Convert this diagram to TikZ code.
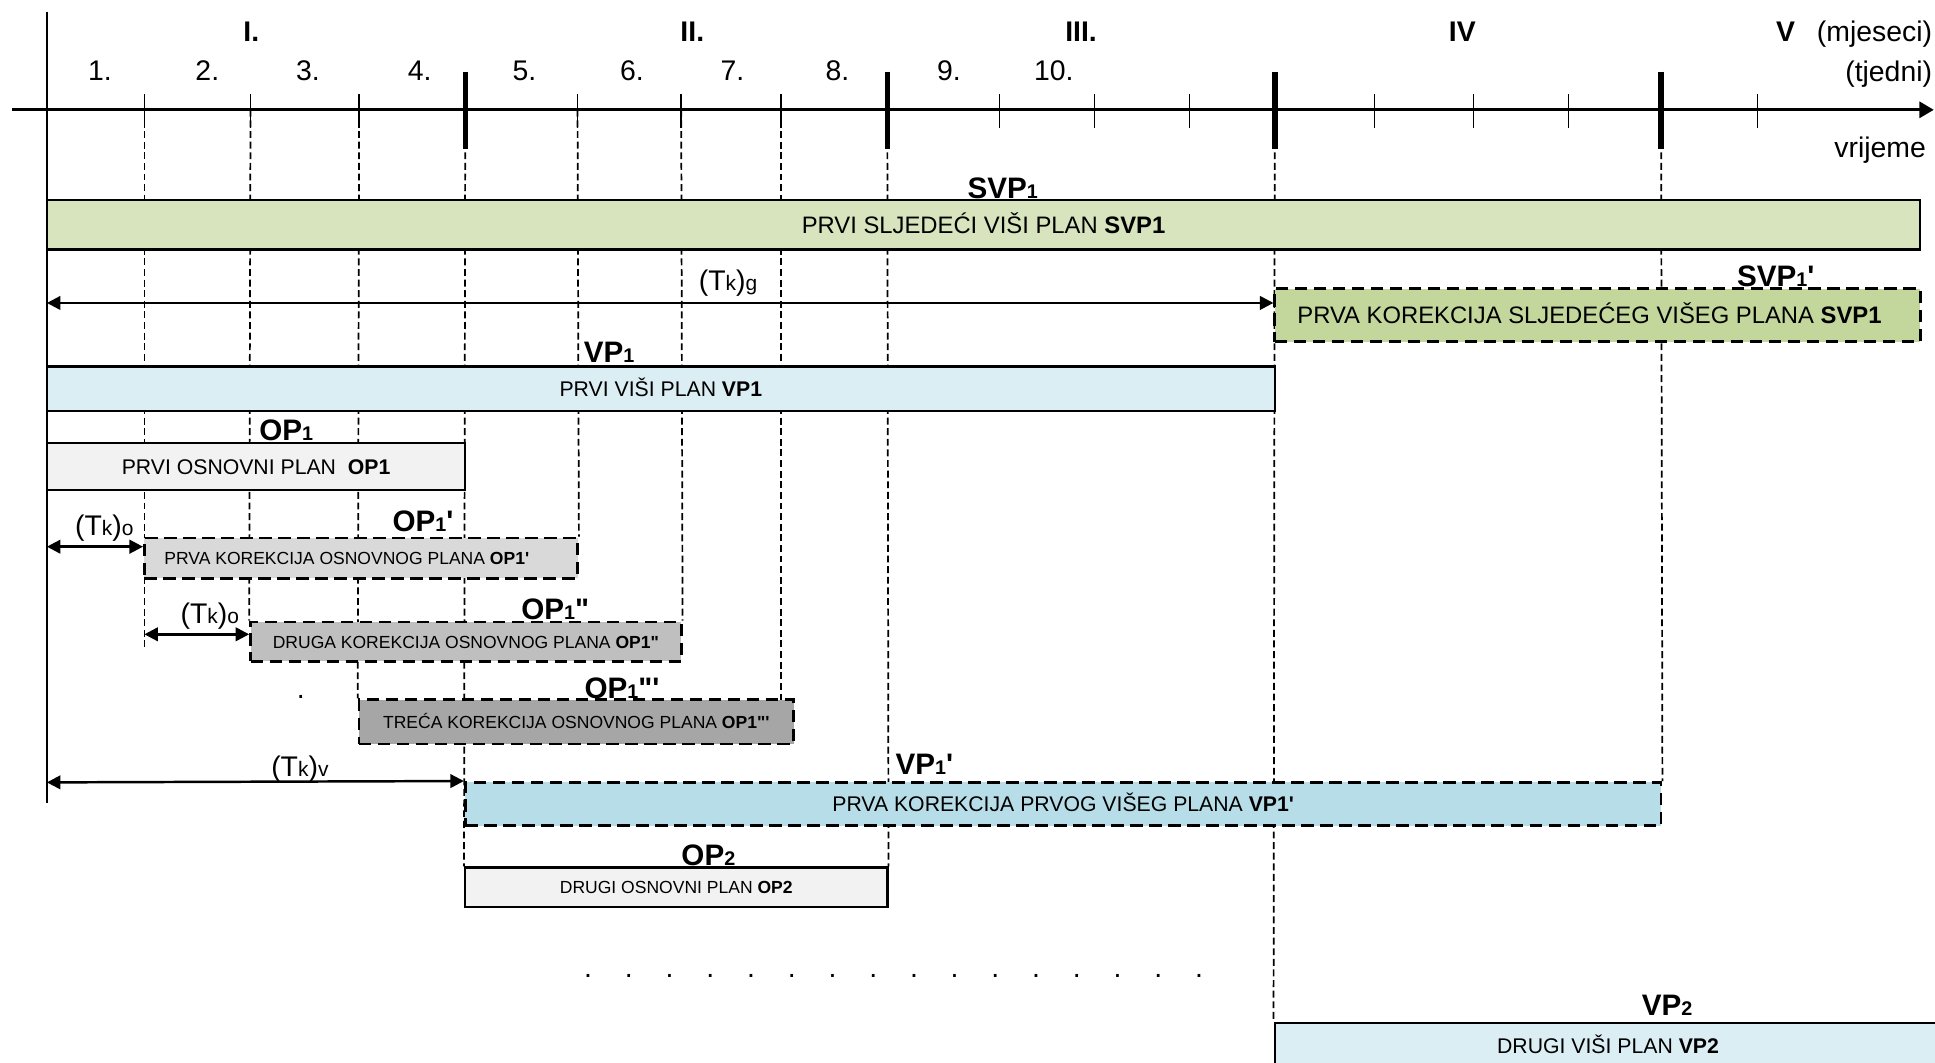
\documentclass[tikz,border=0pt]{standalone}
\usepackage{fontspec}
\setmainfont{Liberation Sans}
\usetikzlibrary{arrows.meta,backgrounds}

\definecolor{svpfill}{HTML}{D7E4BD}
\definecolor{svpcorr}{HTML}{C3D69B}
\definecolor{vpfill}{HTML}{DBEEF4}
\definecolor{vpcorr}{HTML}{B7DEE8}
\definecolor{opfill}{HTML}{F2F2F2}
\definecolor{opcorra}{HTML}{D9D9D9}
\definecolor{opcorrb}{HTML}{BFBFBF}
\definecolor{opcorrc}{HTML}{A6A6A6}

\newcommand{\pidx}[1]{{\fontsize{8}{8}\selectfont #1}}
\newcommand{\tksmall}[1]{{\fontsize{8.5}{8.5}\selectfont #1}}
\newcommand{\tkper}[1]{(T\tksmall{k})\tksmall{#1}}

\tikzset{
    axisline/.style = {line width=1.1pt},
    ticksmall/.style = {line width=0.6pt},
    tickbig/.style = {line width=2.2pt},
    guide/.style = {line width=0.7pt, dash pattern=on 2.8pt off 1.5pt},
    planbar/.style = {rectangle, draw=black, line width=1pt, inner sep=0pt, text centered, text depth=0pt},
    corrbar/.style = {planbar, line width=1.1pt, dash pattern=on 5pt off 2.7pt},
    barL/.style = {font=\fontsize{9.65}{9.65}\selectfont, text height=6.9pt},
    barM/.style = {font=\fontsize{8.6}{8.6}\selectfont, text height=6.15pt},
    barS/.style = {font=\fontsize{7.1}{7.1}\selectfont, text height=5.1pt},
    planlabel/.style = {font=\fontsize{12}{12}\selectfont\bfseries, inner sep=0pt, anchor=base},
    axislabel/.style = {font=\fontsize{11.5}{11.5}\selectfont, inner sep=0pt, anchor=base},
    dimarrow/.style = {line width=1pt, {Triangle[length=5.5pt,width=5.5pt]}-{Triangle[length=5.5pt,width=5.5pt]}}
}

\begin{document}
\begin{tikzpicture}[x=0.5pt, y=-0.5pt]
\useasboundingbox (0,0) rectangle (1568,861);
\clip (0,0) rectangle (1568,861);

% time axis
\coordinate (axL) at (10,89);
\coordinate (axR) at (1567,89);
\coordinate (vtop) at (38,9.5);
\coordinate (vbot) at (38,651);
\draw [axisline, -{Triangle[length=5.8pt,width=6.5pt]}] (axL) -- (axR);
\draw [axisline] (vtop) -- (vbot);
\foreach \x in {117,203,291,468,552,633,810,887,964,1114,1194,1271,1424}
    \draw [ticksmall] (\x,76.5) -- (\x,103.5);
\foreach \x in {377,719,1033,1346}
    \draw [tickbig] (\x,58) -- (\x,121);

% weeks and months
\foreach \x/\t [count=\i] in {81/1.,168/2.,249.6/3.,340/4.,425/5.,512/6.,593.5/7.,678.6/8.,769/9.,854/10.}
    \node (wk\i) [axislabel] at (\x,65.6) {\t};
\foreach \x/\t [count=\i] in {203.6/I.,561/II.,876/III.,1185/IV,1447/V}
    \node (mo\i) [axislabel, font=\fontsize{11.5}{11.5}\selectfont\bfseries] at (\x,33.8) {\t};
\node (mjes) [axislabel, anchor=base east] at (1566,33.8) {(mjeseci)};
\node (tjed) [axislabel, anchor=base east] at (1566,66.2) {(tjedni)};
\node (vrij) [axislabel, anchor=base east] at (1561,128) {vrijeme};

% plans
\node (svp) [planbar, barL, fill=svpfill, minimum width=759pt, minimum height=20pt] at (797,182) {PRVI SLJEDEĆI VIŠI PLAN \textbf{SVP1}};
\node (svpc) [corrbar, barL, fill=svpcorr, minimum width=261.5pt, minimum height=21.5pt] at (1294.5,255.5) {PRVA KOREKCIJA SLJEDEĆEG VIŠEG PLANA \textbf{SVP1}\hspace*{6.5pt}};
\node (vp) [planbar, barM, fill=vpfill, minimum width=497.5pt, minimum height=18pt] at (535.5,315) {PRVI VIŠI PLAN \textbf{VP1}};
\node (op) [planbar, barM, fill=opfill, minimum width=169.5pt, minimum height=19pt] at (207.5,378) {PRVI OSNOVNI PLAN\ \ \textbf{OP1}};
\node (opa) [corrbar, barS, fill=opcorra, minimum width=175.5pt, minimum height=16.25pt] at (292.5,452.25) {PRVA KOREKCIJA OSNOVNOG PLANA \textbf{OP1\textquotesingle}\hspace*{11.5pt}};
\node (opb) [corrbar, barS, fill=opcorrb, minimum width=174.5pt, minimum height=16pt] at (377.5,520) {DRUGA KOREKCIJA OSNOVNOG PLANA \textbf{OP1\textquotedbl}};
\node (opc) [corrbar, barS, fill=opcorrc, minimum width=176pt, minimum height=18pt] at (467,585) {TREĆA KOREKCIJA OSNOVNOG PLANA \textbf{OP1\textquotedbl\textquotesingle}};
\node (vpc) [corrbar, barM, fill=vpcorr, minimum width=484.5pt, minimum height=17.5pt] at (861.5,651.5) {PRVA KOREKCIJA PRVOG VIŠEG PLANA \textbf{VP1\textquotesingle}};
\node (optwo) [planbar, barS, fill=opfill, minimum width=171pt, minimum height=16pt] at (548,719) {DRUGI OSNOVNI PLAN \textbf{OP2}};
\node (vptwo) [planbar, barM, fill=vpfill, minimum width=270pt, minimum height=18.5pt] at (1303,847.5) {DRUGI VIŠI PLAN \textbf{VP2}};

% plan labels
\node (svplab) [planlabel] at (812.5,160.5) {SVP\pidx{1}};
\node (svpclab) [planlabel] at (1439,232) {SVP\pidx{1}\textquotesingle};
\node (vplab) [planlabel] at (493.5,294) {VP\pidx{1}};
\node (oplab) [planlabel] at (232,357) {OP\pidx{1}};
\node (opalab) [planlabel] at (342.7,431) {OP\pidx{1}\textquotesingle};
\node (opblab) [planlabel] at (450,502.4) {OP\pidx{1}\textquotedbl};
\node (opclab) [planlabel] at (504,565.7) {OP\pidx{1}\textquotedbl\textquotesingle};
\node (vpclab) [planlabel] at (749,628) {VP\pidx{1}\textquotesingle};
\node (optwolab) [planlabel] at (574,701) {OP\pidx{2}};
\node (vptwolab) [planlabel] at (1351,822.6) {VP\pidx{2}};

% correction periods
\coordinate (tkgL) at (38,245.5);
\coordinate (tkoaL) at (38,443);
\coordinate (tkobL) at (117,514);
\coordinate (tkvL) at (38,634);
\draw [dimarrow] (tkgL) -- (tkgL -| svpc.west);
\draw [dimarrow] (tkoaL) -- (tkoaL -| opa.west);
\draw [dimarrow] (tkobL) -- (tkobL -| opb.west);
\draw [dimarrow] (tkvL) -- (vpc.north west);
\node (tkglab) [axislabel] at (590,235) {\tkper{g}};
\node (tkoalab) [axislabel] at (84.5,433.6) {\tkper{o}};
\node (tkoblab) [axislabel] at (170,505) {\tkper{o}};
\node (tkvlab) [axislabel] at (243,629) {\tkper{v}};

\node (lonedot) [axislabel] at (243.8,566) {.};
\foreach \i in {0,...,15}
    \node (dot\i) [axislabel] at ({476.6+33*\i},792) {.};

% guides
\begin{scope}[on background layer]
\draw [guide] (117,89) -- (117,527);
\draw [guide] (203,89) -- (opb.north west);
\draw [guide] (291,89) -- (opc.north west);
\draw [guide] (377,89) -- (optwo.north west);
\draw [guide] (468,89) -- (opa.north east);
\draw [guide] (552,89) -- (opb.north east);
\draw [guide] (633,89) -- (633,567);
\draw [guide] (719,89) -- (optwo.north east);
\draw [guide] (1033,89) -- (vptwo.north west);
\draw [guide] (1346,89) -- (vpc.north east);
\end{scope}
\end{tikzpicture}
\end{document}
